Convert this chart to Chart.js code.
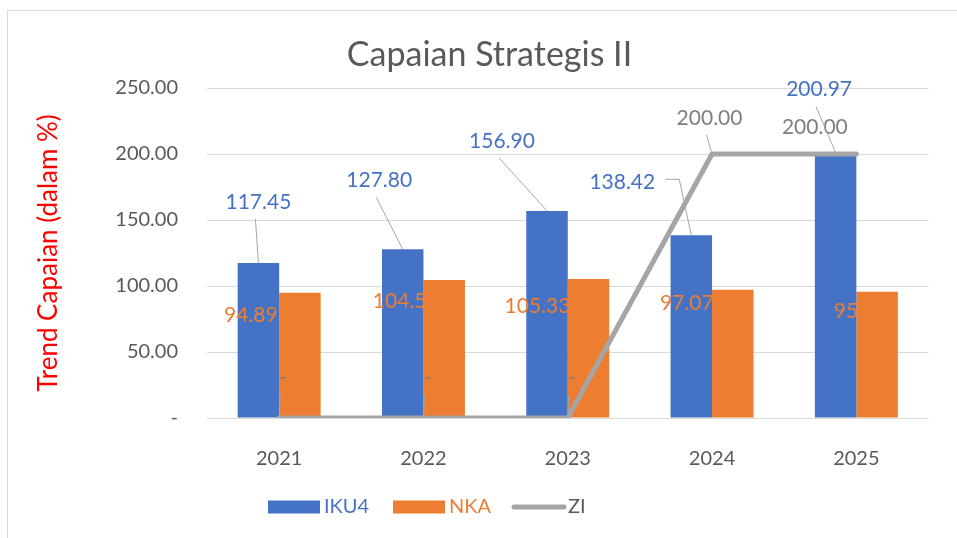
<!DOCTYPE html>
<html>
<head>
<meta charset="utf-8">
<title>Capaian Strategis II</title>
<script src="https://cdn.jsdelivr.net/npm/chart.js@4"></script>
<style>
html, body { margin: 0; padding: 0; background: #fff; }
#wrap { position: relative; width: 957px; height: 538px; overflow: hidden; }
#frame { position: absolute; left: 7px; top: 10px; width: 1000px; height: 600px;
         border-left: 1.5px solid #d9d9d9; border-top: 1.5px solid #d9d9d9; }
#chart { position: absolute; left: 0; top: 0; }
</style>
</head>
<body>
<div id="wrap">
  <div id="frame"></div>
  <canvas id="chart" width="957" height="538"></canvas>
</div>
<script>
// data
const years = ['2021', '2022', '2023', '2024', '2025'];
const iku4 = [117.45, 127.80, 156.90, 138.42, 200.97];
const nka = [94.89, 104.50, 105.33, 97.07, 95.70];
const zi = [0, 0, 0, 200, 200];
const seriesNames = ['IKU4', 'NKA', 'ZI'];

const BLUE = '#4472c4';
const ORANGE = '#ed7d31';
const GRAY = '#a5a5a5';
const TEXT = '#595959';
const FONT = 'Lato';

// where each data label sits, relative to its bar top / point (dx, dy, leader type)
const ikuLabelPos = [[0, -61, 'down'], [-23.5, -69, 'down'], [-45, -70, 'down'], [-69, -53, 'elbow'], [-16.5, -63, 'down']];
const nkaLabelPos = [[-49, 22], [-38.5, 21], [-51, 27], [-46, 13], [-16.5, 20]];
const ziLabelPos = [[4, -40, 'down'], [4, -40, 'down'], [4, -40, 'down'], [-2.5, -36, 'down'], [-41.5, -27, 'none']];

function fmt(v) {
    return v === 0 ? '-' : v.toFixed(2);
}

function drawLabel(ctx, el, value, pos, color) {
    const lx = el.x + pos[0];
    const ly = el.y + pos[1];
    const txt = fmt(value);
    ctx.fillStyle = color;
    ctx.fillText(txt, lx, ly);
    if (!pos[2] || pos[2] === 'none') return;
    ctx.beginPath();
    if (pos[2] === 'down') {
        ctx.moveTo(lx - 3, ly + 17);
    } else {
        // elbow leader coming out of the right side of the label
        const w = ctx.measureText(txt).width;
        ctx.moveTo(lx + w / 2 + 10, ly - 3);
        ctx.lineTo(lx + w / 2 + 24, ly - 3);
    }
    ctx.lineTo(el.x, el.y);
    ctx.stroke();
}

const labelsPlugin = {
    id: 'excelLabels',
    afterDatasetsDraw(chart) {
        const ctx = chart.ctx;
        ctx.save();
        ctx.font = '21px ' + FONT;
        ctx.textAlign = 'center';
        ctx.textBaseline = 'middle';
        ctx.strokeStyle = '#a6a6a6';
        ctx.lineWidth = 1;
        const mIku = chart.getDatasetMeta(0).data;
        const mNka = chart.getDatasetMeta(1).data;
        const mZi = chart.getDatasetMeta(2).data;
        nka.forEach((v, i) => drawLabel(ctx, mNka[i], v, nkaLabelPos[i], ORANGE));
        zi.forEach((v, i) => drawLabel(ctx, mZi[i], v, ziLabelPos[i], '#7f7f7f'));
        iku4.forEach((v, i) => drawLabel(ctx, mIku[i], v, ikuLabelPos[i], BLUE));
        ctx.restore();
    },
    afterDraw(chart) {
        const ctx = chart.ctx;
        ctx.save();
        // chart title
        ctx.font = '34px ' + FONT;
        ctx.fillStyle = TEXT;
        ctx.textAlign = 'center';
        ctx.textBaseline = 'middle';
        ctx.fillText('Capaian Strategis II', 489.5, 55);

        // legend
        const items = [
            { x: 268, kind: 'box', color: BLUE, text: BLUE },
            { x: 393, kind: 'box', color: ORANGE, text: ORANGE },
            { x: 512, kind: 'line', color: GRAY, text: TEXT }
        ];
        const y = 507;
        ctx.font = '20px ' + FONT;
        ctx.textAlign = 'left';
        items.forEach((it, i) => {
            if (it.kind === 'box') {
                ctx.fillStyle = it.color;
                ctx.fillRect(it.x, y - 6.5, 52, 13);
            } else {
                ctx.strokeStyle = it.color;
                ctx.lineWidth = 5;
                ctx.lineCap = 'round';
                ctx.beginPath();
                ctx.moveTo(it.x + 2, y);
                ctx.lineTo(it.x + 52, y);
                ctx.stroke();
            }
            ctx.fillStyle = it.text;
            ctx.fillText(seriesNames[i], it.x + 56, y);
        });
        ctx.restore();
    }
};

const ctx = document.getElementById('chart').getContext('2d');
new Chart(ctx, {
    type: 'bar',
    data: {
        labels: years,
        datasets: [{
            label: seriesNames[0],
            data: iku4,
            backgroundColor: BLUE
        }, {
            label: seriesNames[1],
            data: nka,
            backgroundColor: ORANGE
        }, {
            type: 'line',
            label: seriesNames[2],
            data: zi,
            borderColor: GRAY,
            backgroundColor: GRAY,
            borderWidth: 5,
            pointRadius: 0,
            tension: 0,
            borderCapStyle: 'round',
            borderJoinStyle: 'round',
            order: -1 // drawn on top of the bars
        }]
    },
    options: {
        responsive: false,
        animation: false,
        devicePixelRatio: 1,
        datasets: {
            bar: { categoryPercentage: 0.575, barPercentage: 1.0 }
        },
        layout: { padding: { left: 0, right: 28.5, top: 88, bottom: 0 } },
        scales: {
            x: {
                grid: { display: false },
                border: { display: false },
                ticks: { color: TEXT, font: { family: FONT, size: 20 }, padding: 21 },
                afterFit(scale) { scale.height = 120; }
            },
            y: {
                min: 0,
                max: 250,
                ticks: {
                    stepSize: 50,
                    color: TEXT,
                    font: { family: FONT, size: 20 },
                    padding: 29,
                    callback: (v) => fmt(v)
                },
                grid: { color: '#d9d9d9', lineWidth: 1, drawTicks: false },
                border: { display: false },
                title: {
                    display: true,
                    text: 'Trend Capaian (dalam %)',
                    color: '#ff0000',
                    font: { family: FONT, size: 26 },
                    padding: { top: 33.4, bottom: 0 }
                },
                afterFit(scale) { scale.width = 207; }
            }
        },
        plugins: {
            legend: { display: false },
            title: { display: false },
            tooltip: { enabled: false }
        }
    },
    plugins: [labelsPlugin]
});
</script>
</body>
</html>
